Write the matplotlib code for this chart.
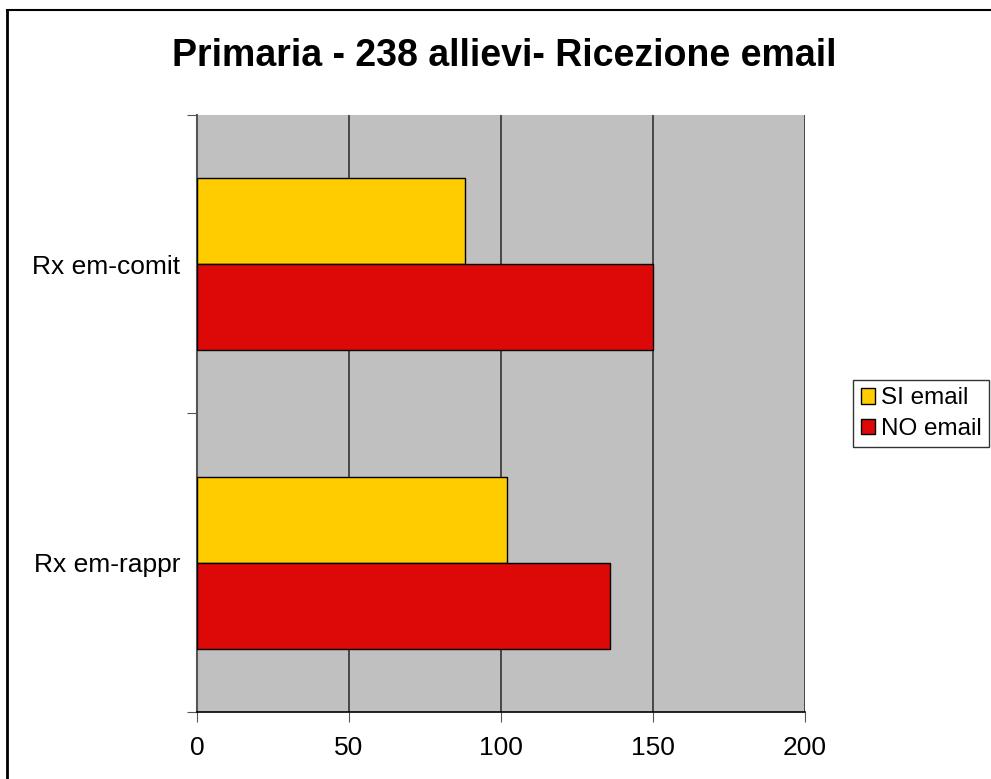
import numpy as np
import matplotlib.pyplot as plt
from matplotlib.lines import Line2D

plt.rcParams['font.family'] = ['Liberation Sans', 'DejaVu Sans']

# dati
categorie = ['Rx em-rappr', 'Rx em-comit']
si_email = [102, 88]
no_email = [136, 150]
serie = ['SI email', 'NO email']
colori = ['#FFCC00', '#DD0808']

fig = plt.figure(figsize=(9.91, 7.79), dpi=100)
ax = fig.add_axes([0.1988, 0.086, 0.6135, 0.7664])
ax.set_facecolor('#C0C0C0')

y = np.arange(len(categorie)) + 0.5
h = 0.288
ax.barh(y + h / 2, si_email, height=h, color=colori[0], edgecolor='black', linewidth=1, label=serie[0], zorder=3)
ax.barh(y - h / 2, no_email, height=h, color=colori[1], edgecolor='black', linewidth=1, label=serie[1], zorder=3)

ax.set_xlim(0, 200)
ax.set_ylim(0, 2)
ax.set_xticks([0, 50, 100, 150, 200])
ax.set_yticks([0, 1, 2])
ax.set_yticklabels([])
ax.set_yticks(y, minor=True)
ax.set_yticklabels(categorie, minor=True, fontsize=19)
ax.tick_params(axis='y', which='minor', length=0, pad=12)
ax.tick_params(axis='y', which='major', length=7, color='#555555')
ax.tick_params(axis='x', length=7, labelsize=19, pad=10, color='#555555')
ax.xaxis.grid(True, color='#333333', linewidth=1.2, zorder=1)
ax.set_axisbelow(True)
for s in ['top', 'right']:
    ax.spines[s].set_visible(False)
ax.spines['left'].set_color('#555555')
ax.spines['left'].set_linewidth(1.5)
ax.spines['bottom'].set_linewidth(1.2)

fig.text(0.509, 0.928, 'Primaria - 238 allievi- Ricezione email', ha='center', va='center',
         fontsize=27, fontweight='bold')

leg = fig.legend(loc='center left', bbox_to_anchor=(0.861, 0.469), fontsize=17.5,
                 frameon=True, fancybox=False, edgecolor='black', handlelength=0.6,
                 handleheight=0.6, handletextpad=0.25, borderpad=0.3, labelspacing=0.35,
                 borderaxespad=0)
leg.get_frame().set_linewidth(1)

# bordo della figura (solo sinistra e alto visibili)
fig.lines.append(Line2D([7 / 991, 7 / 991], [0, 1 - 10 / 779], transform=fig.transFigure,
                        color='black', linewidth=2))
fig.lines.append(Line2D([7 / 991, 1], [1 - 10 / 779, 1 - 10 / 779], transform=fig.transFigure,
                        color='black', linewidth=1.5))

fig.savefig('out.png', dpi=100)
